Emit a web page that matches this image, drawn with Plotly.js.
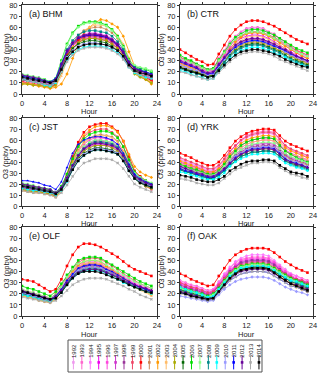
<!DOCTYPE html>
<html><head><meta charset="utf-8">
<script src="https://cdn.plot.ly/plotly-3.0.1.min.js"></script>
<style>html,body{margin:0;padding:0;background:#fff}#chart{width:320px;height:374px}</style>
</head><body><div id="chart"></div>
<script>
const hours = [0,1,2,3,4,5,6,7,8,9,10,11,12,13,14,15,16,17,18,19,20,21,22,23];
const years = [1992,1993,1994,1995,1996,1997,1998,1999,2000,2001,2002,2003,2004,2005,2006,2007,2008,2009,2010,2011,2012,2013,2014];
const yearColors = ['#ee99ee','#ff66cc','#ff77ff','#ee00ee','#ff44dd','#cc33cc','#993399','#ee4466','#ff0000','#cc8855','#ff9900','#ffbb66','#aaaa00','#006600','#00dd00','#88ff88','#008888','#00ffff','#9999ff','#0000ff','#660099','#aaaaaa','#000000'];
const panelLabels = ['(a) BHM','(b) CTR','(c) JST','(d) YRK','(e) OLF','(f) OAK'];
const xTitle = 'Hour';
const yTitle = 'O3 (ppbv)';

const BHM = [
[12,11,10,9,8,7,10,22,34,41,47,49,50,50,49,48,45,41,35,26,21,19,16,13],
[11,10,10,9,8,7,9,23,35,43,48,51,52,52,51,50,47,43,36,27,20,18,15,12],
[13,12,11,10,9,8,11,25,37,46,51,54,55,55,54,53,50,45,38,29,22,20,17,14],
[12,12,11,10,9,8,10,24,36,44,49,52,53,53,52,51,48,44,37,28,21,19,16,13],
[14,13,12,11,10,9,12,24,35,43,47,50,51,51,50,49,46,42,36,27,23,20,18,15],
[13,12,11,11,10,8,11,25,37,45,50,53,54,54,53,52,49,45,38,28,22,20,17,14],
[15,14,13,12,11,9,12,25,36,44,48,51,52,52,51,50,47,43,37,28,24,21,19,16],
[10,10,9,8,7,6,8,21,33,41,46,49,50,50,49,48,45,41,35,26,19,17,14,11],
[11,10,9,8,7,6,9,22,35,44,49,52,53,53,52,51,48,44,37,28,20,18,15,12],
[10,9,8,8,7,6,7,19,33,45,53,57,59,60,60,58,55,50,42,31,19,16,13,10],
[9,9,8,7,6,5,6,9,18,32,45,55,60,64,67,66,63,60,52,38,25,18,13,9],
[10,10,9,8,7,6,7,16,30,43,52,57,60,62,62,61,58,53,45,33,21,17,14,11],
[9,9,8,8,7,6,8,20,32,41,46,49,50,50,49,48,45,41,35,25,18,15,13,10],
[13,12,11,10,9,8,11,23,34,41,45,47,48,48,47,46,43,39,33,25,21,21,19,17],
[17,16,15,14,13,11,14,30,45,55,61,64,65,65,64,62,58,52,43,31,25,23,22,20],
[18,17,16,15,13,11,14,29,44,54,60,63,64,64,63,61,57,51,42,30,26,24,23,21],
[16,15,14,13,12,10,13,27,40,48,53,56,57,57,56,55,52,47,40,29,24,22,20,18],
[14,12,11,10,8,7,10,20,30,36,40,42,43,43,43,42,40,37,32,24,19,17,15,14],
[15,14,13,12,11,9,12,22,33,39,43,45,46,46,45,44,42,39,33,25,21,19,18,16],
[16,15,14,13,12,11,14,27,38,45,50,52,53,53,52,51,48,44,37,28,23,21,20,18],
[17,16,15,14,12,10,13,27,39,46,51,53,54,54,53,52,49,45,38,29,23,21,19,17],
[13,12,11,10,9,8,11,20,29,35,39,41,42,42,42,41,39,36,31,24,20,18,17,15],
[15,14,13,12,11,10,12,22,32,38,42,44,45,45,45,44,42,39,34,26,21,19,18,16]
];
const CTR = [
[30,28,26,24,22,20,21,29,36,43,48,52,54,55,55,54,52,50,47,44,40,37,35,33],
[33,31,29,27,24,22,23,32,39,47,52,56,59,60,60,59,56,54,50,47,43,40,37,35],
[32,30,28,26,23,21,22,31,38,46,51,55,58,59,59,58,55,53,49,46,42,39,36,34],
[29,27,25,23,20,18,19,27,34,41,46,50,52,53,53,52,50,47,44,41,38,35,32,30],
[31,29,27,25,22,20,21,29,36,43,49,52,55,56,56,55,53,50,47,44,40,37,34,32],
[28,26,24,22,20,18,19,26,32,39,44,47,49,50,50,49,47,45,42,39,36,33,31,29],
[27,25,23,21,19,17,18,25,31,38,43,46,48,49,49,48,46,44,41,38,35,32,30,28],
[33,31,29,26,23,21,22,30,37,44,49,52,55,56,56,55,53,51,48,45,42,39,37,35],
[40,37,34,31,29,26,27,36,44,52,58,62,65,66,66,65,63,61,58,55,52,49,47,45],
[26,24,22,20,18,16,17,24,30,36,40,43,45,46,46,45,43,41,39,37,34,32,30,28],
[28,26,24,22,20,17,17,25,33,40,47,51,54,55,55,54,52,49,46,43,40,37,34,32],
[27,25,23,21,18,16,17,24,32,39,45,48,51,52,52,51,49,46,44,41,37,34,32,30],
[25,23,21,20,18,16,17,24,30,36,41,44,46,47,47,46,44,42,39,37,34,31,29,27],
[24,22,21,19,18,16,17,23,29,35,39,42,44,45,45,44,42,40,38,35,32,30,28,26],
[35,32,30,27,25,22,23,31,38,45,51,54,57,58,58,57,55,53,50,47,44,41,39,37],
[32,30,28,26,23,21,22,30,37,44,49,53,55,56,56,55,53,50,48,45,41,38,36,34],
[23,21,20,18,17,15,16,22,28,34,38,41,43,44,44,43,41,39,37,34,31,29,27,25],
[21,20,18,16,15,13,14,20,26,32,36,39,41,42,42,41,39,37,35,33,30,28,26,24],
[26,24,22,21,19,17,18,25,31,37,42,45,47,48,48,47,45,43,41,38,35,33,31,29],
[29,27,25,23,20,18,19,26,32,38,42,45,47,48,48,47,45,43,41,39,36,34,32,30],
[30,28,26,24,21,19,20,27,33,39,44,47,49,50,50,49,47,45,42,40,37,34,32,30],
[20,19,17,16,14,13,14,19,24,29,33,36,37,38,38,37,36,34,31,29,27,25,23,21],
[24,22,20,19,17,15,16,21,26,31,35,38,39,40,40,39,38,36,34,31,29,27,25,24]
];
const JST = [
[17,16,15,15,14,13,11,15,24,35,44,50,53,55,55,55,53,50,44,34,25,22,19,17],
[18,17,16,15,14,13,11,16,25,37,46,52,56,58,58,57,56,53,46,36,27,23,20,18],
[16,15,14,14,13,12,10,15,25,38,48,54,58,60,60,59,58,54,47,36,26,21,19,16],
[17,16,15,14,13,12,10,15,24,36,45,51,55,57,57,56,55,52,45,35,26,22,19,17],
[19,18,17,16,15,14,12,17,27,40,50,56,60,62,62,61,60,56,49,38,28,24,22,19],
[18,17,16,15,14,13,11,16,25,36,45,51,54,56,56,55,54,51,45,35,26,23,20,18],
[17,16,15,14,13,12,10,15,25,37,47,53,57,59,59,58,57,54,46,36,26,22,20,17],
[15,14,13,13,12,11,9,15,27,43,55,63,67,69,70,70,67,63,54,40,27,22,18,15],
[16,15,14,13,12,11,9,16,29,45,58,67,72,74,75,75,72,68,59,45,32,27,23,20],
[14,13,12,12,11,10,8,14,25,39,51,58,62,64,65,64,63,59,50,38,27,22,19,16],
[15,14,13,13,12,11,9,14,25,40,55,64,69,72,73,73,71,67,59,47,36,31,28,26],
[14,13,12,12,11,10,8,13,24,38,50,57,61,63,64,64,62,58,50,39,28,24,21,18],
[15,14,13,13,12,11,9,14,23,34,44,50,53,55,55,55,53,50,43,34,25,21,18,16],
[19,18,17,16,15,14,12,16,24,35,43,48,51,53,53,52,51,48,42,34,26,22,20,18],
[20,19,18,17,16,15,12,18,29,43,54,61,65,67,68,68,66,62,54,42,31,26,23,20],
[21,20,19,17,16,15,12,17,26,38,48,54,58,60,60,59,58,55,48,39,30,26,23,21],
[18,17,16,15,14,13,11,16,25,37,46,52,56,58,58,57,56,53,46,37,28,24,21,19],
[16,15,14,14,13,12,10,14,22,33,41,46,49,51,51,50,49,47,41,32,25,21,19,17],
[18,17,16,15,14,13,11,15,23,34,42,47,50,52,52,51,50,48,42,33,26,22,20,18],
[23,23,22,21,19,18,15,22,35,48,56,60,62,63,63,62,60,56,48,38,29,25,22,20],
[20,19,18,17,16,15,12,17,26,37,46,52,55,57,57,56,55,52,46,36,27,24,21,19],
[14,13,12,12,11,10,8,12,19,27,34,39,41,43,43,43,42,39,34,27,20,17,15,13],
[18,17,16,15,14,13,11,15,23,33,41,46,49,51,51,50,49,47,41,32,25,21,19,17]
];
const YRK = [
[38,36,34,33,31,29,29,32,36,42,47,50,53,55,55,56,56,55,51,46,43,42,40,38],
[42,40,38,36,34,32,32,36,42,49,55,60,64,66,67,68,68,67,61,55,51,49,46,44],
[43,41,39,37,35,33,33,36,42,49,54,59,62,64,65,66,66,65,60,54,51,49,47,45],
[40,38,36,35,33,31,31,34,39,46,51,55,58,60,61,62,62,61,56,51,48,46,44,42],
[39,37,35,34,32,30,30,33,38,44,50,53,56,58,59,60,60,59,54,50,47,45,43,41],
[37,35,34,32,31,29,29,32,37,42,47,51,54,56,56,57,57,56,52,47,44,43,41,39],
[36,34,33,31,30,28,28,31,35,41,46,49,52,54,54,55,55,54,50,46,43,41,40,38],
[44,42,40,38,36,34,34,37,43,50,55,60,63,65,66,67,67,66,61,55,52,50,48,46],
[48,46,44,41,39,37,37,40,46,53,59,63,66,68,69,70,70,69,64,59,56,54,52,50],
[35,33,32,30,29,27,27,30,34,40,45,48,51,53,53,54,54,53,49,45,42,40,39,37],
[41,39,37,35,33,31,31,34,40,47,52,57,60,62,63,64,64,63,58,53,50,48,46,44],
[39,37,35,33,31,29,29,32,37,44,49,53,56,58,59,60,60,59,55,50,47,46,44,42],
[34,32,31,29,28,26,26,29,33,38,43,46,49,51,51,52,52,51,47,43,40,38,37,35],
[33,31,30,28,27,25,25,28,32,37,41,45,47,49,49,50,50,49,45,41,39,37,36,34],
[38,36,34,33,31,29,29,32,38,45,50,55,58,60,61,62,62,61,55,50,47,44,42,40],
[36,34,33,31,30,28,28,31,36,42,48,51,54,56,57,58,58,57,52,48,45,43,41,39],
[33,31,30,28,27,25,25,28,32,37,41,45,47,49,49,50,50,49,45,41,38,36,35,33],
[31,30,28,27,25,24,24,26,30,36,40,43,45,47,47,48,48,47,43,39,37,35,34,32],
[35,33,32,30,29,27,27,30,34,40,45,48,51,53,53,54,54,53,49,44,41,40,38,36],
[34,32,31,29,28,26,26,29,33,39,44,47,50,52,52,53,53,52,48,43,40,39,37,35],
[36,34,32,30,29,27,27,30,34,39,43,47,49,51,51,52,52,51,47,42,40,38,37,35],
[25,24,23,21,20,19,19,21,25,29,33,35,37,39,39,40,40,39,35,32,29,28,26,25],
[28,27,26,24,23,22,22,24,27,32,35,38,40,41,41,42,42,41,37,34,31,30,29,27]
];
const OLF = [
[21,20,18,17,15,14,17,23,31,37,42,44,45,45,44,42,39,36,33,30,28,26,24,22],
[22,21,19,18,16,15,18,25,33,39,44,46,47,47,46,43,41,38,35,32,29,27,25,23],
[23,21,20,18,17,15,18,25,34,41,46,48,49,49,48,45,42,39,36,33,30,28,26,24],
[20,19,17,16,14,13,16,22,30,36,41,43,44,44,43,41,38,35,32,29,27,25,23,21],
[22,20,19,17,16,14,17,24,33,40,45,47,48,48,47,44,41,38,35,32,29,27,25,23],
[21,20,18,17,15,14,17,24,32,38,43,45,46,46,45,42,40,37,34,31,28,26,24,22],
[20,19,18,16,15,14,17,23,31,37,42,44,45,45,44,41,39,36,33,30,27,25,23,21],
[24,22,21,19,18,16,20,27,36,43,48,51,52,52,51,48,45,42,38,35,32,29,27,25],
[33,32,31,28,25,22,24,33,45,55,62,65,65,64,62,59,56,53,49,45,42,40,38,36],
[19,18,17,15,14,13,16,23,32,39,44,46,47,47,46,43,40,37,33,30,27,25,22,20],
[18,17,16,14,13,12,15,22,32,40,46,49,50,50,49,45,42,38,34,31,27,25,22,19],
[18,17,16,14,13,12,15,22,31,39,44,47,48,48,47,43,40,37,33,29,26,23,21,18],
[19,18,17,15,14,13,16,22,30,36,41,43,44,44,43,40,38,35,32,29,26,24,22,20],
[21,20,18,17,15,14,17,22,29,35,39,41,42,42,41,39,37,34,32,29,27,26,24,22],
[27,25,24,22,20,18,22,29,37,44,50,52,53,53,52,49,46,43,40,37,34,31,29,27],
[24,22,21,19,18,16,19,26,35,42,47,49,50,50,49,46,43,40,37,34,31,29,27,25],
[20,19,18,16,15,14,17,23,30,36,40,42,43,43,42,40,37,35,32,29,27,25,23,21],
[19,18,17,15,14,13,16,21,28,34,38,40,41,41,40,38,35,33,30,28,26,24,22,20],
[21,20,18,17,15,14,17,23,31,37,41,43,44,44,43,41,38,35,32,30,27,25,23,21],
[22,21,19,18,16,15,18,24,32,38,43,45,46,46,45,42,40,37,34,31,28,26,24,22],
[23,21,20,18,17,15,18,23,30,35,39,41,42,42,41,39,37,35,32,30,28,26,25,23],
[17,16,15,14,13,12,14,18,23,28,31,33,34,34,34,33,31,29,27,24,22,19,17,15],
[22,21,19,18,16,15,16,21,28,34,38,40,40,40,39,37,35,33,31,28,26,24,22,21]
];
const OAK = [
[28,26,25,23,22,20,22,28,34,40,45,48,49,50,50,50,49,46,42,38,35,32,30,28],
[32,30,28,27,25,23,24,31,37,43,48,51,52,53,53,53,52,49,45,41,38,36,34,32],
[31,29,27,26,24,22,24,30,38,44,49,52,54,55,55,55,54,50,46,42,38,36,33,31],
[29,27,25,24,22,20,22,28,35,41,45,49,50,51,51,51,50,47,43,39,36,33,31,29],
[30,28,26,25,23,21,23,29,36,42,46,50,51,52,52,52,51,48,44,40,37,34,32,30],
[27,25,24,22,21,19,21,27,33,39,44,47,48,49,49,49,48,45,41,37,34,32,30,28],
[28,26,24,23,21,19,21,27,34,40,44,48,49,50,50,50,49,46,42,38,35,33,31,29],
[30,28,26,25,23,21,22,28,34,39,43,46,47,48,48,48,47,44,41,38,35,33,32,30],
[38,36,33,31,29,27,28,36,43,50,55,58,60,61,61,61,60,57,53,49,46,43,41,39],
[25,23,22,20,19,17,19,24,31,37,41,44,45,46,46,46,45,42,39,36,33,31,29,27],
[23,22,20,19,17,16,17,23,29,35,39,42,43,44,44,44,43,40,36,32,29,26,24,22],
[24,22,21,19,18,16,17,23,30,36,40,43,44,45,45,45,44,41,37,33,30,28,26,24],
[22,21,19,18,16,15,16,22,28,34,38,41,42,43,43,43,42,39,35,32,29,27,25,23],
[24,22,21,19,18,16,17,23,29,35,39,42,43,44,44,44,43,40,37,34,31,29,27,25],
[26,24,23,21,20,18,20,25,32,38,42,45,46,47,47,47,46,43,40,37,34,32,30,28],
[25,23,22,20,19,17,19,24,31,37,41,44,45,46,46,46,45,42,39,36,33,31,29,27],
[23,22,20,19,17,16,17,23,29,35,39,42,43,44,44,44,43,40,37,34,31,30,28,26],
[26,24,22,21,19,17,18,24,30,36,40,43,44,45,45,45,44,41,38,35,32,31,29,27],
[18,17,16,15,14,13,14,19,24,28,31,33,34,35,35,35,34,32,29,26,24,22,21,19],
[21,20,18,17,15,14,15,21,26,32,35,38,39,40,40,40,39,36,33,30,27,26,24,22],
[22,21,19,18,16,15,16,22,28,33,37,40,41,42,42,42,41,38,35,32,29,28,26,24],
[20,19,17,16,15,14,15,21,26,32,35,38,39,40,40,40,39,36,33,30,27,26,24,22],
[21,20,18,17,16,15,16,22,28,34,38,41,42,43,43,43,42,39,35,32,29,27,25,23]
];
const siteData = [BHM, CTR, JST, YRK, OLF, OAK];

const W = 320, H = 374;
const colPx = [[22, 157], [180, 313]];
const rowPx = [[5, 94], [118, 206], [227, 316]];
const yTitleXPx = [6, 161];
const xTitleYPx = [112, 224, 334.5];
const FONT = 'Liberation Sans, Arial, sans-serif';
const symbols = ['square','circle','diamond','triangle-up','cross','x','square','circle'];

const traces = [];
const layout = {
  width: W, height: H, margin: {l:0, r:0, t:0, b:0},
  paper_bgcolor: '#fff', plot_bgcolor: '#fff', showlegend: false,
  font: {family: FONT, size: 8, color: '#222'},
  annotations: [], shapes: []
};

siteData.forEach((rows, s) => {
  const ax = s + 1;
  const col = s % 2, row = Math.floor(s / 2);
  const xs = ax === 1 ? 'x' : 'x' + ax;
  const ys = ax === 1 ? 'y' : 'y' + ax;
  rows.forEach((vals, k) => {
    traces.push({
      type: 'scatter', mode: 'lines+markers', x: hours, y: vals,
      xaxis: xs, yaxis: ys, hoverinfo: 'skip',
      line: {color: yearColors[k], width: 0.8},
      marker: {color: yearColors[k], size: 2.6, symbol: symbols[k % symbols.length]}
    });
  });
  const common = {
    showline: true, linecolor: '#333', linewidth: 1, mirror: 'ticks',
    ticks: 'outside', ticklen: 2, tickwidth: 1, tickcolor: '#333',
    showgrid: false, zeroline: false, tickfont: {size: 7.5, family: FONT, color: '#222'}
  };
  layout['xaxis' + (ax === 1 ? '' : ax)] = Object.assign({}, common, {
    domain: [colPx[col][0]/W, colPx[col][1]/W], anchor: ys, range: [0, 24], tick0: 0, dtick: 4
  });
  layout['yaxis' + (ax === 1 ? '' : ax)] = Object.assign({}, common, {
    domain: [1 - rowPx[row][1]/H, 1 - rowPx[row][0]/H], anchor: xs, range: [0, 80], tick0: 0, dtick: 10
  });
  layout.annotations.push({
    xref: xs + ' domain', yref: ys + ' domain', x: 0.04, y: 0.895,
    xanchor: 'left', yanchor: 'middle', showarrow: false,
    text: panelLabels[s], font: {size: 9, family: FONT, color: '#111'}
  });
  layout.annotations.push({
    xref: 'paper', yref: ys + ' domain', x: yTitleXPx[col]/W, y: 0.5,
    xanchor: 'center', yanchor: 'middle', textangle: -90, showarrow: false,
    text: yTitle, font: {size: 7.5, family: FONT, color: '#222'}
  });
  layout.annotations.push({
    xref: xs + ' domain', yref: 'paper', x: 0.5, y: 1 - xTitleYPx[row]/H,
    xanchor: 'center', yanchor: 'middle', showarrow: false,
    text: xTitle, font: {size: 7.5, family: FONT, color: '#222'}
  });
});

// legend drawn as its own small axis
layout.xaxis7 = {domain: [68/W, 262/W], anchor: 'y7', range: [1991.36, 2014.36], visible: false, fixedrange: true};
layout.yaxis7 = {domain: [1-372/H, 1-340/H], anchor: 'x7', range: [0, 1], visible: false, fixedrange: true};
const legY = years.map(() => 0.3);
traces.push({
  type: 'scatter', mode: 'markers', x: years, y: legY, xaxis: 'x7', yaxis: 'y7', hoverinfo: 'skip',
  marker: {symbol: 'line-ns-open', size: 10, color: yearColors, line: {color: yearColors, width: 1}}
});
traces.push({
  type: 'scatter', mode: 'markers', x: years, y: legY, xaxis: 'x7', yaxis: 'y7', hoverinfo: 'skip',
  marker: {symbol: 'square', size: 2.6, color: yearColors}
});
years.forEach(yr => {
  layout.annotations.push({
    xref: 'x7', yref: 'y7', x: yr, y: 0.95, xanchor: 'center', yanchor: 'top',
    textangle: -90, showarrow: false, text: String(yr),
    font: {size: 6, family: FONT, color: '#222'}
  });
});
layout.shapes.push({
  type: 'rect', xref: 'paper', yref: 'paper',
  x0: 68/W, x1: 262/W, y0: 1-372/H, y1: 1-340/H,
  line: {color: '#555', width: 1}, fillcolor: 'rgba(0,0,0,0)'
});

Plotly.newPlot('chart', traces, layout, {staticPlot: true, displayModeBar: false});
</script>
</body></html>
